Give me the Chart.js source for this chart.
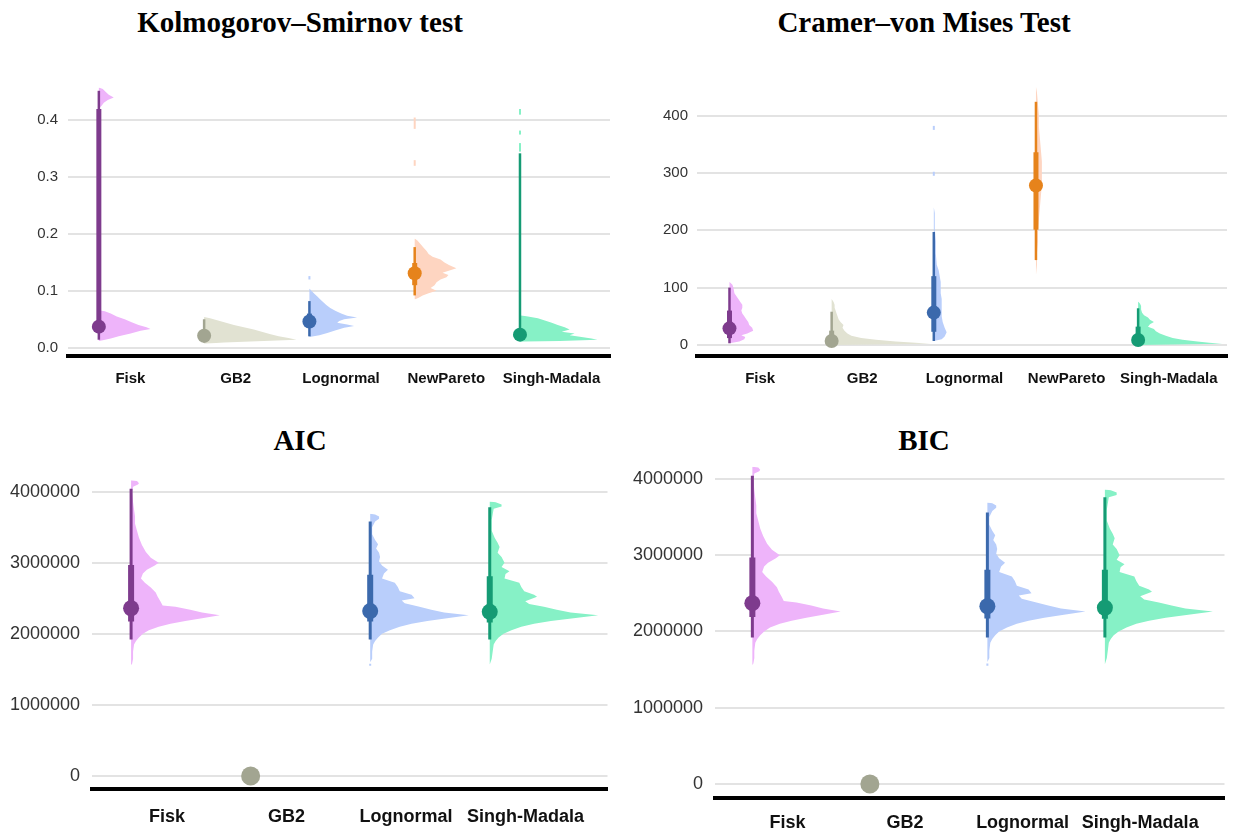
<!DOCTYPE html>
<html lang="en">
  <head>
    <meta charset="UTF-8" />
    <title>Goodness of fit: KS, CvM, AIC, BIC</title>
    <script src="https://cdn.jsdelivr.net/npm/chart.js"></script>
    <style>
      body { margin: 0; background: #fff; width: 1234px; height: 832px; position: relative; overflow: hidden; }
      canvas { position: absolute; }
      .title {
        position: absolute; transform: translateX(-50%); white-space: nowrap;
        font-family: "Liberation Serif", serif; font-weight: bold; font-size: 29px; line-height: 34px; color: #000;
      }
    </style>
  </head>
  <body>
    <div class="title" style="left: 300px; top: 5px">Kolmogorov–Smirnov test</div>
    <div class="title" style="left: 924px; top: 5px">Cramer–von Mises Test</div>
    <div class="title" style="left: 300px; top: 423px">AIC</div>
    <div class="title" style="left: 924px; top: 423px">BIC</div>
    <canvas id="ksChart" width="617" height="416" style="left: 0; top: 0"></canvas>
    <canvas id="cvmChart" width="617" height="416" style="left: 617px; top: 0"></canvas>
    <canvas id="aicChart" width="617" height="416" style="left: 0; top: 416px"></canvas>
    <canvas id="bicChart" width="617" height="416" style="left: 617px; top: 416px"></canvas>
    <script>
      // colours by model
      const slabColor = { Fisk: "#EEB4FA", GB2: "#E1E2D2", Lognormal: "#B9CEFB", NewPareto: "#FED5C1", "Singh-Madala": "#86F1C6" };
      const pointColor = { Fisk: "#7E3B8D", GB2: "#A2A591", Lognormal: "#3B69AC", NewPareto: "#E6831B", "Singh-Madala": "#159B74" };

      // ---- Kolmogorov–Smirnov ----
      const ksCategories = ["Fisk", "GB2", "Lognormal", "NewPareto", "Singh-Madala"];
      const ksTicks = [0, 0.1, 0.2, 0.3, 0.4];
      const ksTickLabels = ["0.0", "0.1", "0.2", "0.3", "0.4"];
      const ksMedian = [0.037, 0.021, 0.046, 0.131, 0.023];
      const ksInner = [[0.03, 0.42], [0.015, 0.03], [0.035, 0.06], [0.11, 0.149], [0.018, 0.03]];
      const ksOuter = [[0.014, 0.452], [0.009, 0.05], [0.02, 0.082], [0.092, 0.177], [0.014, 0.342]];
      // [value, density]
      const ksSlabs = [
        [[0.458, 0], [0.455, 4], [0.45, 7], [0.445, 10], [0.44, 15], [0.436, 9], [0.431, 5], [0.426, 3], [0.421, 0],
         [0.066, 0], [0.064, 6], [0.06, 12], [0.055, 18], [0.05, 26], [0.045, 33], [0.04, 40], [0.036, 48], [0.033, 52],
         [0.03, 42], [0.025, 32], [0.02, 20], [0.016, 12], [0.013, 4], [0.012, 0]],
        [[0.054, 0], [0.052, 6], [0.048, 14], [0.044, 22], [0.04, 30], [0.036, 40], [0.032, 50], [0.028, 58], [0.024, 66],
         [0.02, 75], [0.017, 85], [0.014, 93], [0.012, 60], [0.009, 20], [0.007, 0]],
        [[0.104, 0], [0.1, 2], [0.095, 5], [0.09, 8], [0.085, 11], [0.08, 14], [0.075, 17], [0.07, 21], [0.065, 26], [0.06, 32],
         [0.056, 38], [0.053, 48], [0.05, 35], [0.047, 30], [0.044, 28], [0.041, 38], [0.038, 45], [0.035, 35], [0.03, 25],
         [0.026, 18], [0.022, 10], [0.019, 0]],
        [[0.192, 0], [0.188, 3], [0.182, 6], [0.176, 9], [0.17, 12], [0.165, 14], [0.16, 18], [0.155, 26], [0.15, 30], [0.145, 35],
         [0.14, 42], [0.136, 35], [0.132, 28], [0.128, 34], [0.124, 32], [0.12, 26], [0.115, 22], [0.11, 20], [0.105, 16],
         [0.1, 22], [0.096, 14], [0.092, 8], [0.088, 4], [0.085, 0]],
        [[0.057, 0], [0.055, 8], [0.052, 18], [0.048, 25], [0.044, 32], [0.04, 38], [0.036, 45], [0.032, 50], [0.028, 42],
         [0.025, 55], [0.022, 50], [0.019, 62], [0.016, 72], [0.014, 78], [0.012, 40], [0.0105, 0]],
      ];
      const ksTails = [[], [], [[0.12, 0.126]], [[0.32, 0.33], [0.385, 0.405]], [[0.345, 0.36], [0.375, 0.382], [0.41, 0.42]]];

      // ---- Cramer–von Mises ----
      const cvmCategories = ["Fisk", "GB2", "Lognormal", "NewPareto", "Singh-Madala"];
      const cvmTicks = [0, 100, 200, 300, 400];
      const cvmTickLabels = ["0", "100", "200", "300", "400"];
      const cvmMedian = [29, 7, 56.5, 278, 8.7];
      const cvmInner = [[12, 60], [3, 25], [23, 120], [201, 336], [3, 32]];
      const cvmOuter = [[3, 100], [1, 58], [7, 197], [148, 424], [1, 64]];
      const cvmSlabs = [
        [[110, 0], [105, 3], [100, 4], [90, 5], [80, 9], [75, 11], [70, 13], [65, 13], [60, 12], [55, 13], [50, 15], [45, 17],
         [40, 19], [35, 20], [30, 23], [25, 24], [20, 18], [17, 12], [14, 16], [10, 15], [6, 10], [3, 0]],
        [[80, 0], [75, 2], [70, 3], [65, 3], [60, 4], [55, 5], [50, 6], [45, 7], [40, 9], [35, 12], [30, 11], [25, 13], [20, 16],
         [16, 20], [12, 30], [9, 45], [6, 65], [4, 85], [2, 100], [0, 0]],
        [[240, 0], [230, 1], [200, 1], [180, 2], [160, 2], [140, 3], [130, 5], [120, 6], [110, 7], [100, 7], [90, 7], [80, 8],
         [70, 8], [60, 8], [50, 8], [40, 9], [30, 11], [22, 13], [15, 11], [10, 8], [7, 0]],
        [[450, 0], [440, 1], [420, 2], [400, 3], [380, 3], [360, 4], [340, 5], [320, 6], [300, 6], [280, 6], [260, 5], [240, 4],
         [220, 3], [200, 2], [180, 2], [160, 1], [140, 1], [122, 0]],
        [[76, 0], [72, 2], [68, 3], [62, 3], [56, 4], [52, 6], [48, 10], [44, 12], [40, 16], [36, 12], [32, 10], [28, 16], [24, 18],
         [20, 22], [16, 28], [12, 35], [9, 45], [6, 60], [4, 72], [2, 85], [0, 0]],
      ];
      const cvmTails = [[], [], [[295, 302], [375, 382]], [], []];

      // ---- AIC / BIC (values in millions) ----
      const icCategories = ["Fisk", "GB2", "Lognormal", "Singh-Madala"];
      const icTicks = [0, 1, 2, 3, 4];
      const icTickLabels = ["0", "1000000", "2000000", "3000000", "4000000"];
      const aicMedian = [2.36, 0, 2.32, 2.31];
      const aicInner = [[2.175, 2.97], null, [2.175, 2.83], [2.16, 2.81]];
      const aicOuter = [[1.92, 4.04], null, [1.92, 3.58], [1.92, 3.78]];
      const bicMedian = [2.37, 0, 2.33, 2.31];
      const bicInner = [[2.19, 2.97], null, [2.17, 2.81], [2.165, 2.81]];
      const bicOuter = [[1.92, 4.04], null, [1.92, 3.56], [1.92, 3.76]];
      const icSlabs = [
        [[4.16, 0], [4.15, 6], [4.12, 8], [4.1, 7], [4.07, 2], [4.0, 1], [3.85, 2], [3.75, 3], [3.65, 4], [3.55, 4], [3.45, 6],
         [3.35, 8], [3.25, 11], [3.15, 15], [3.07, 20], [3.0, 28], [2.96, 24], [2.9, 16], [2.85, 12], [2.78, 10], [2.72, 14],
         [2.65, 20], [2.58, 25], [2.52, 27], [2.45, 30], [2.4, 32], [2.38, 45], [2.34, 60], [2.3, 72], [2.26, 90], [2.22, 72],
         [2.18, 55], [2.14, 40], [2.1, 28], [2.05, 18], [2.0, 12], [1.95, 8], [1.9, 5], [1.85, 3], [1.75, 2], [1.65, 2], [1.58, 1], [1.56, 0]],
        [],
        [[3.69, 0], [3.68, 5], [3.65, 9], [3.62, 9], [3.58, 5], [3.5, 2], [3.4, 2], [3.32, 5], [3.26, 8], [3.2, 6], [3.14, 9],
         [3.08, 10], [3.02, 9], [2.96, 12], [2.9, 18], [2.85, 14], [2.78, 12], [2.72, 25], [2.66, 28], [2.6, 30], [2.55, 42],
         [2.5, 45], [2.47, 32], [2.43, 35], [2.38, 50], [2.34, 62], [2.3, 75], [2.26, 100], [2.22, 78], [2.18, 58], [2.14, 42],
         [2.1, 30], [2.05, 20], [2.0, 12], [1.95, 8], [1.9, 5], [1.85, 3], [1.75, 2], [1.65, 2], [1.6, 0]],
        [[3.86, 0], [3.85, 6], [3.82, 12], [3.79, 12], [3.76, 4], [3.6, 2], [3.45, 2], [3.35, 5], [3.28, 8], [3.22, 10], [3.14, 8],
         [3.08, 12], [3.0, 15], [2.94, 12], [2.88, 20], [2.84, 16], [2.78, 15], [2.72, 30], [2.66, 32], [2.6, 35], [2.55, 45],
         [2.52, 48], [2.46, 36], [2.42, 40], [2.38, 55], [2.34, 68], [2.3, 82], [2.26, 110], [2.22, 85], [2.18, 62], [2.14, 45],
         [2.1, 32], [2.05, 22], [2.0, 14], [1.95, 9], [1.9, 6], [1.85, 4], [1.75, 3], [1.65, 2], [1.57, 0]],
      ];
      const icTails = [[], [], [[1.55, 1.58]], []];

      const dodge = -0.3; // half-eye sits left of its label

      function drawPanel(id, d, look) {
        const datasets = [];
        d.categories.forEach((name, i) => {
          const pos = i + dodge;
          const slab = d.slabs[i];
          if (slab && slab.length) {
            datasets.push({
              indexAxis: "y",
              data: slab.map(([v, w]) => ({ x: pos + w * look.slabScale, y: v })),
              fill: { value: pos },
              backgroundColor: slabColor[name],
              borderColor: slabColor[name],
              borderWidth: 0,
              pointRadius: 0,
              tension: 0,
              order: 5,
            });
          }
          (d.tails[i] || []).forEach(([lo, hi]) => {
            datasets.push({
              data: [{ x: pos, y: lo }, { x: pos, y: hi }],
              borderColor: slabColor[name],
              borderWidth: 2,
              pointRadius: 0,
              order: 4,
            });
          });
          if (d.outer[i]) {
            datasets.push({
              data: [{ x: pos, y: d.outer[i][0] }, { x: pos, y: d.outer[i][1] }],
              borderColor: pointColor[name],
              borderWidth: look.thin,
              borderCapStyle: "butt",
              pointRadius: 0,
              order: 3,
            });
          }
          if (d.inner[i]) {
            datasets.push({
              data: [{ x: pos, y: d.inner[i][0] }, { x: pos, y: d.inner[i][1] }],
              borderColor: pointColor[name],
              borderWidth: look.thick,
              borderCapStyle: "butt",
              pointRadius: 0,
              order: 2,
            });
          }
          datasets.push({
            data: [{ x: pos, y: d.median[i] }],
            showLine: false,
            pointRadius: name === "GB2" && look.bigGB2 ? look.dot + 1.5 : look.dot,
            pointBackgroundColor: pointColor[name],
            pointBorderWidth: 0,
            order: 1,
          });
        });

        new Chart(document.getElementById(id).getContext("2d"), {
          type: "line",
          data: { datasets },
          options: {
            responsive: false,
            animation: false,
            events: [],
            layout: { padding: look.padding },
            plugins: { legend: { display: false }, tooltip: { enabled: false } },
            scales: {
              x: {
                type: "linear",
                min: look.xMin,
                max: look.xMax,
                afterBuildTicks: (s) => { s.ticks = d.categories.map((_, i) => ({ value: i })); },
                afterFit: (s) => { s.height = look.xHeight; },
                grid: { display: false, drawTicks: false },
                border: { display: true, color: "#000", width: 4 },
                ticks: {
                  callback: (v) => d.categories[v],
                  autoSkip: false,
                  maxRotation: 0,
                  padding: look.xPad,
                  color: "#111",
                  font: { family: "Liberation Sans", weight: "bold", size: look.xFont },
                },
              },
              y: {
                type: "linear",
                min: look.yMin,
                max: look.yMax,
                afterBuildTicks: (s) => { s.ticks = d.ticks.map((v) => ({ value: v })); },
                afterFit: (s) => { s.width = look.yWidth; },
                grid: { color: "#e3e3e3", lineWidth: 2, drawTicks: false },
                border: { display: false },
                ticks: {
                  callback: (v, i) => d.tickLabels[i],
                  padding: look.yPad,
                  color: "#333",
                  font: { family: "Liberation Sans", size: look.yFont },
                },
              },
            },
          },
        });
      }

      drawPanel(
        "ksChart",
        { categories: ksCategories, ticks: ksTicks, tickLabels: ksTickLabels, median: ksMedian, inner: ksInner, outer: ksOuter, slabs: ksSlabs, tails: ksTails },
        { padding: { left: 0, right: 2, top: 80, bottom: 0 }, yWidth: 68, xHeight: 60, yMin: -0.0146, yMax: 0.471,
          xMin: -0.593, xMax: 4.555, slabScale: 1 / 106, thin: 2.5, thick: 5, dot: 7, xFont: 15, yFont: 15, xPad: 14, yPad: 10 }
      );
      drawPanel(
        "cvmChart",
        { categories: cvmCategories, ticks: cvmTicks, tickLabels: cvmTickLabels, median: cvmMedian, inner: cvmInner, outer: cvmOuter, slabs: cvmSlabs, tails: cvmTails },
        { padding: { left: 0, right: 0, top: 80, bottom: 0 }, yWidth: 80, xHeight: 60, yMin: -19.2, yMax: 462,
          xMin: -0.618, xMax: 4.57, slabScale: 1 / 103.5, thin: 2.5, thick: 5, dot: 7, xFont: 15, yFont: 15, xPad: 14, yPad: 9 }
      );
      drawPanel(
        "aicChart",
        { categories: icCategories, ticks: icTicks, tickLabels: icTickLabels, median: aicMedian, inner: aicInner, outer: aicOuter, slabs: icSlabs, tails: icTails },
        { padding: { left: 0, right: 2, top: 50, bottom: 0 }, yWidth: 92, xHeight: 43, yMin: -0.183, yMax: 4.361,
          xMin: -0.627, xMax: 3.685, slabScale: 1 / 121.3, thin: 3, thick: 6, dot: 8, bigGB2: true, xFont: 18, yFont: 18, xPad: 17, yPad: 12 }
      );
      drawPanel(
        "bicChart",
        { categories: icCategories, ticks: icTicks, tickLabels: icTickLabels, median: bicMedian, inner: bicInner, outer: bicOuter, slabs: icSlabs, tails: icTails },
        { padding: { left: 0, right: 0, top: 40, bottom: 0 }, yWidth: 98, xHeight: 34, yMin: -0.184, yMax: 4.3,
          xMin: -0.618, xMax: 3.718, slabScale: 1 / 119.7, thin: 3, thick: 6, dot: 8, bigGB2: true, xFont: 18, yFont: 18, xPad: 14, yPad: 12 }
      );
    </script>
  </body>
</html>
